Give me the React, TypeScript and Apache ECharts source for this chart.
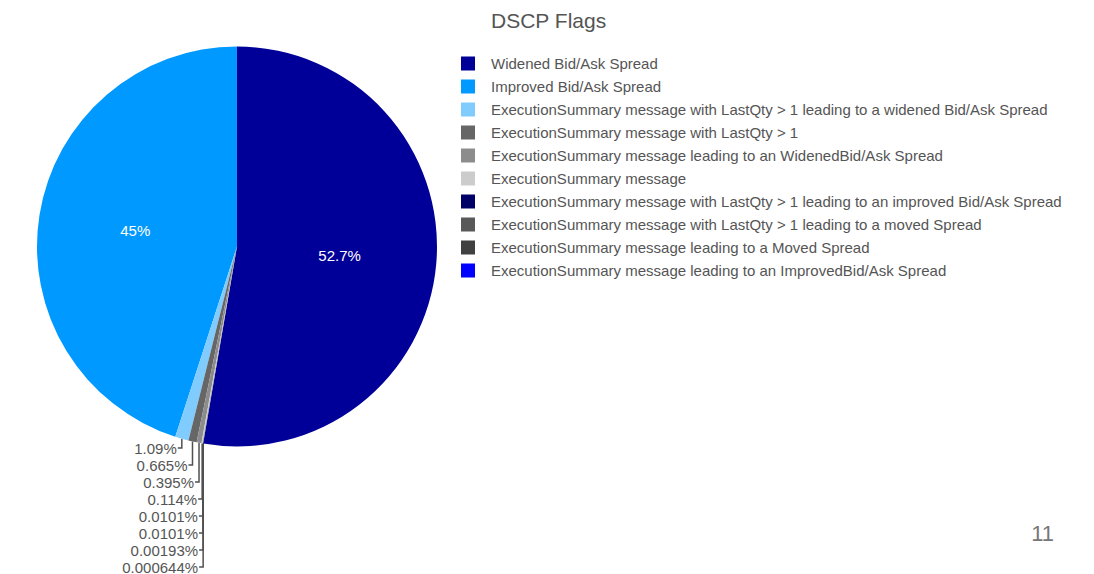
import React, { useEffect, useRef } from "react";
import * as echarts from "echarts";

const chartTitle = "DSCP Flags";
const slideNumber = "11";

const categories = [
  "Widened Bid/Ask Spread",
  "Improved Bid/Ask Spread",
  "ExecutionSummary message with LastQty > 1 leading to a widened Bid/Ask Spread",
  "ExecutionSummary message with LastQty > 1",
  "ExecutionSummary message leading to an WidenedBid/Ask Spread",
  "ExecutionSummary message",
  "ExecutionSummary message with LastQty > 1 leading to an improved Bid/Ask Spread",
  "ExecutionSummary message with LastQty > 1 leading to a moved Spread",
  "ExecutionSummary message leading to a Moved Spread",
  "ExecutionSummary message leading to an ImprovedBid/Ask Spread",
];

const percentValues = [52.7, 45, 1.09, 0.665, 0.395, 0.114, 0.0101, 0.0101, 0.00193, 0.000644];

const sliceColors = [
  "#000099",
  "#0099ff",
  "#80ccff",
  "#666666",
  "#8c8c8c",
  "#cccccc",
  "#000066",
  "#595959",
  "#404040",
  "#0000ff",
];

const FONT = "'Liberation Sans', Arial, Helvetica, sans-serif";
const TEXT_COLOR = "#555555";

export default function App() {
  const ref = useRef<HTMLDivElement>(null);

  useEffect(() => {
    document.body.style.margin = "0";
    if (!ref.current) return;
    const chart = echarts.init(ref.current, undefined, { renderer: "svg" });
    const total = percentValues.reduce((a, b) => a + b, 0);
    const startAngle = 450 - (360 * percentValues[0]) / total;

    const data = categories.map((name, i) => {
      const inside = i < 2;
      return {
        name,
        value: percentValues[i],
        itemStyle: { color: sliceColors[i] },
        label: inside
          ? { position: "inside", color: "#ffffff" }
          : { position: "outside", color: TEXT_COLOR },
        labelLine: { show: !inside },
      };
    });

    chart.setOption({
      animation: false,
      backgroundColor: "#ffffff",
      textStyle: { fontFamily: FONT },
      title: {
        text: chartTitle,
        left: 486,
        top: 5,
        textStyle: { fontSize: 21, fontWeight: "normal", color: TEXT_COLOR, fontFamily: FONT },
      },
      legend: {
        orient: "vertical",
        left: 456,
        top: 51,
        itemWidth: 14,
        itemHeight: 14,
        itemGap: 8,
        icon: "rect",
        selectedMode: false,
        data: categories,
        textStyle: {
          fontSize: 15,
          lineHeight: 14,
          color: TEXT_COLOR,
          fontFamily: FONT,
          padding: [0, 0, 0, 11],
        },
      },
      graphic: [
        {
          type: "text",
          right: 40,
          top: 522,
          style: { text: slideNumber, fontSize: 22, fill: "#777777", fontFamily: FONT },
        },
      ],
      series: [
        {
          type: "pie",
          center: [237, 246.5],
          radius: 200,
          clockwise: false,
          startAngle,
          avoidLabelOverlap: false,
          minAngle: 0,
          minShowLabelAngle: 0,
          label: {
            show: true,
            fontSize: 15,
            fontFamily: FONT,
            formatter: (p: any) => `${p.value}%`,
          },
          labelLine: {
            show: true,
            length: 5,
            length2: 5,
            lineStyle: { color: "#505050", width: 1.5 },
          },
          labelLayout: (p: any) => {
            if (p.dataIndex < 2) return {};
            const pts = p.labelLinePoints;
            if (!pts) return {};
            const sx = pts[0][0];
            const sy = pts[0][1];
            const y = 448 + (p.dataIndex - 2) * 17;
            const x = sx - 5;
            return {
              x,
              y,
              align: "right",
              verticalAlign: "middle",
              labelLinePoints: [
                [sx, sy],
                [sx, y],
                [x + 1, y],
              ],
            };
          },
          emphasis: { disabled: true },
          data,
        },
      ],
    });
    return () => chart.dispose();
  }, []);

  return <div ref={ref} style={{ width: 1094, height: 574 }} />;
}
